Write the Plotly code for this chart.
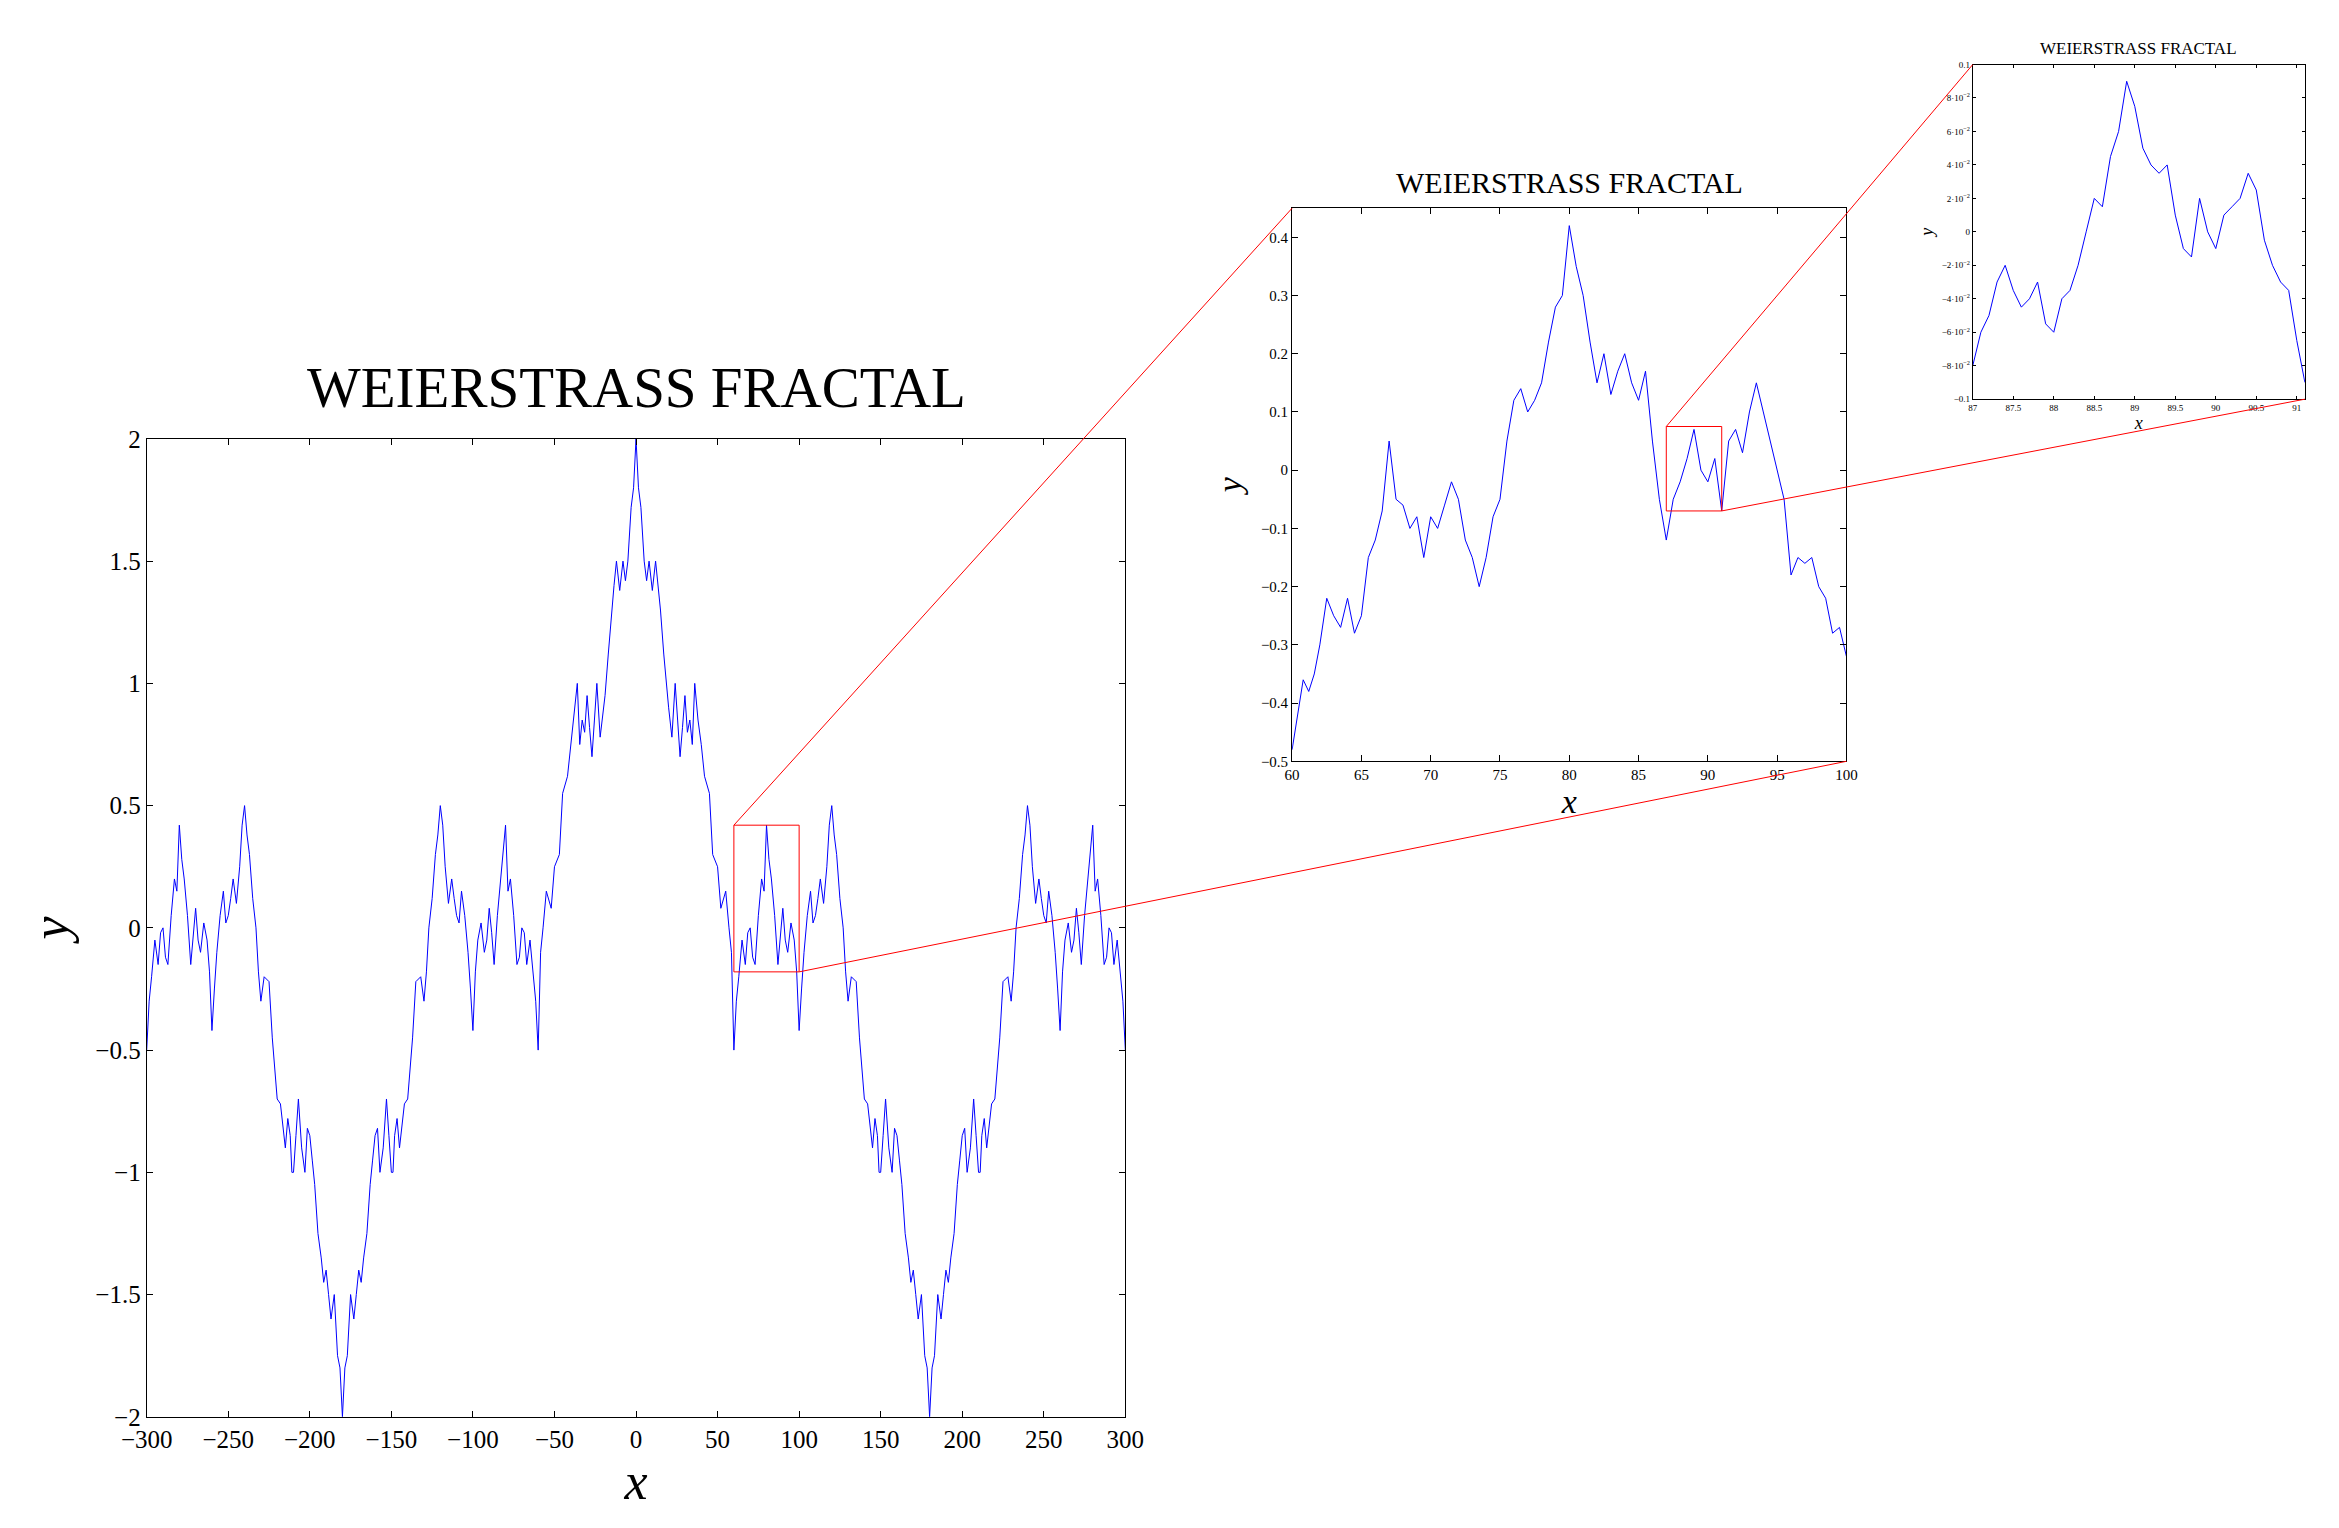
import plotly.graph_objects as go

# main panel, read for x in 0..180 (curve is mirrored around 0 and 180)
main_x_half = [0, 1.5, 3, 5, 6.5, 8, 10, 12, 13.5, 15, 17, 19, 20, 22, 24, 25.5, 27, 28.5, 30, 31.5, 33, 34.5, 36, 38, 40, 42, 45, 47, 50, 52, 55, 57, 58.5, 60,
               61.5, 63, 65, 67, 68.5, 70, 71.5, 73, 75, 77, 78.5, 80, 81.5, 83, 85, 87, 88.5, 90, 91.5, 93, 95, 97, 98.5, 100,
               101.5, 103, 105, 107, 108.5, 110, 111.5, 113, 115, 117, 118.5, 120, 121.5, 123, 125, 127, 128.5, 130, 132, 135, 137, 140,
               142, 145, 146.5, 148, 149, 150, 151.5, 153, 155, 157, 158.5, 160, 161.5, 163, 165, 167, 168.5, 170, 171.5, 173, 175, 177, 178.5, 180]
main_y_half = [2.0, 1.8, 1.72, 1.5, 1.42, 1.5, 1.38, 1.5, 1.4, 1.3, 1.12, 0.95, 0.9, 0.78, 1.0, 0.85, 0.7, 0.82, 0.95, 0.8, 0.85, 0.75, 1.0, 0.85, 0.75, 0.62, 0.55, 0.3, 0.25, 0.08, 0.15, 0.0, -0.1, -0.5,
               -0.3, -0.2, -0.05, -0.15, -0.02, 0.0, -0.12, -0.15, 0.05, 0.2, 0.15, 0.42, 0.28, 0.2, 0.05, -0.15, -0.02, 0.08, -0.05, -0.1, 0.02, -0.05, -0.18, -0.42,
               -0.25, -0.1, 0.05, 0.15, 0.02, 0.05, 0.12, 0.2, 0.1, 0.25, 0.42, 0.5, 0.38, 0.3, 0.12, 0.0, -0.18, -0.3, -0.2, -0.22, -0.45, -0.7,
               -0.72, -0.9, -0.78, -0.85, -1.0, -1.0, -0.85, -0.7, -0.9, -1.0, -0.82, -0.85, -0.95, -1.05, -1.25, -1.35, -1.45, -1.4, -1.5, -1.6, -1.5, -1.75, -1.8, -2.0]

mid_x = [60, 60.4, 60.8, 61.2, 61.6, 62, 62.5, 63, 63.5, 64, 64.5, 65, 65.5, 66, 66.5, 67, 67.5, 68, 68.5, 69, 69.5, 70, 70.5, 71, 71.5, 72, 72.5, 73, 73.5, 74, 74.5, 75,
         75.5, 76, 76.5, 77, 77.5, 78, 78.5, 79, 79.5, 80, 80.5, 81, 81.5, 82, 82.5, 83, 83.5, 84, 84.5, 85, 85.5, 86, 86.5, 87, 87.5, 88, 88.5, 89, 89.5, 90,
         90.5, 91, 91.5, 92, 92.5, 93, 93.5, 94, 94.5, 95, 95.5, 96, 96.5, 97, 97.5, 98, 98.5, 99, 99.5, 100]
mid_y = [-0.48, -0.42, -0.36, -0.38, -0.35, -0.3, -0.22, -0.25, -0.27, -0.22, -0.28, -0.25, -0.15, -0.12, -0.07, 0.05, -0.05, -0.06, -0.1, -0.08, -0.15, -0.08, -0.1, -0.06, -0.02, -0.05, -0.12, -0.15, -0.2, -0.15, -0.08, -0.05,
         0.05, 0.12, 0.14, 0.1, 0.12, 0.15, 0.22, 0.28, 0.3, 0.42, 0.35, 0.3, 0.22, 0.15, 0.2, 0.13, 0.17, 0.2, 0.15, 0.12, 0.17, 0.05, -0.05, -0.12, -0.05, -0.02, 0.02, 0.07, 0.0, -0.02,
         0.02, -0.07, 0.05, 0.07, 0.03, 0.1, 0.15, 0.1, 0.05, 0.0, -0.05, -0.18, -0.15, -0.16, -0.15, -0.2, -0.22, -0.28, -0.27, -0.32, -0.42]

small_x = [87, 87.1, 87.2, 87.3, 87.4, 87.5, 87.6, 87.7, 87.8, 87.9, 88, 88.1, 88.2, 88.3, 88.4, 88.5, 88.6, 88.7, 88.8, 88.9, 89, 89.1, 89.2, 89.3, 89.4,
           89.5, 89.6, 89.7, 89.8, 89.9, 90, 90.1, 90.2, 90.3, 90.4, 90.5, 90.6, 90.7, 90.8, 90.9, 91, 91.1]
small_y = [-0.08, -0.06, -0.05, -0.03, -0.02, -0.035, -0.045, -0.04, -0.03, -0.055, -0.06, -0.04, -0.035, -0.02, 0.0, 0.02, 0.015, 0.045, 0.06, 0.09, 0.075, 0.05, 0.04, 0.035, 0.04,
           0.01, -0.01, -0.015, 0.02, 0.0, -0.01, 0.01, 0.015, 0.02, 0.035, 0.025, -0.005, -0.02, -0.03, -0.035, -0.065, -0.09]

small_yvals = [-0.1, -0.08, -0.06, -0.04, -0.02, 0, 0.02, 0.04, 0.06, 0.08, 0.1]
small_ytext = ["−0.1", "−8·10<sup>−2</sup>", "−6·10<sup>−2</sup>", "−4·10<sup>−2</sup>", "−2·10<sup>−2</sup>", "0",
               "2·10<sup>−2</sup>", "4·10<sup>−2</sup>", "6·10<sup>−2</sup>", "8·10<sup>−2</sup>", "0.1"]

# mirror the half-period readings: around x=0 and around x=180
pts = {}
for x, y in zip(main_x_half, main_y_half):
    for xx in (x, -x, 360 - x, x - 360):
        if -300 <= xx <= 300:
            pts[xx] = y
main_x = sorted(pts)
main_y = [pts[x] for x in main_x]

FONT = "Liberation Serif"
BLUE = "#0000ff"
RED = "#ff0000"

D1 = dict(x=[0.0593, 0.4777], y=[0.078, 0.718])
D2 = dict(x=[0.549, 0.786], y=[0.507, 0.869])
D3 = dict(x=[0.840, 0.982], y=[0.744, 0.963])
R1 = dict(x=[-300, 300], y=[-2, 2])
R2 = dict(x=[60, 100], y=[-0.5, 0.45])
R3 = dict(x=[87, 91.1], y=[-0.1, 0.1])
BOX1 = dict(x=[60, 100], y=[-0.18, 0.42])
BOX2 = dict(x=[87, 91], y=[-0.07, 0.075])

fig = go.Figure()
fig.add_trace(go.Scatter(x=main_x, y=main_y, mode="lines", line=dict(color=BLUE, width=1), xaxis="x", yaxis="y"))
fig.add_trace(go.Scatter(x=mid_x, y=mid_y, mode="lines", line=dict(color=BLUE, width=1), xaxis="x2", yaxis="y2"))
fig.add_trace(go.Scatter(x=small_x, y=small_y, mode="lines", line=dict(color=BLUE, width=1), xaxis="x3", yaxis="y3"))


def ax(dom, rng, size, **kw):
    d = dict(domain=dom, range=rng, showline=True, mirror="ticks", linecolor="black", linewidth=1,
             ticks="inside", ticklen=6, tickcolor="black", showgrid=False, zeroline=False, automargin=False,
             tickfont=dict(family=FONT, size=size, color="black"))
    d.update(kw)
    return d


def to_paper(px, py, D, R):
    fx = D["x"][0] + (px - R["x"][0]) / (R["x"][1] - R["x"][0]) * (D["x"][1] - D["x"][0])
    fy = D["y"][0] + (py - R["y"][0]) / (R["y"][1] - R["y"][0]) * (D["y"][1] - D["y"][0])
    return fx, fy


shapes = []
for box, D, R, xr, yr, TD in [(BOX1, D1, R1, "x", "y", D2), (BOX2, D2, R2, "x2", "y2", D3)]:
    shapes.append(dict(type="rect", xref=xr, yref=yr, x0=box["x"][0], x1=box["x"][1],
                       y0=box["y"][0], y1=box["y"][1], line=dict(color=RED, width=1)))
    a = to_paper(box["x"][0], box["y"][1], D, R)
    b = to_paper(box["x"][1], box["y"][0], D, R)
    shapes.append(dict(type="line", xref="paper", yref="paper", x0=a[0], y0=a[1], x1=TD["x"][0], y1=TD["y"][1], line=dict(color=RED, width=1)))
    shapes.append(dict(type="line", xref="paper", yref="paper", x0=b[0], y0=b[1], x1=TD["x"][1], y1=TD["y"][0], line=dict(color=RED, width=1)))

fig.update_layout(
    width=2339, height=1528, showlegend=False, plot_bgcolor="white", paper_bgcolor="white",
    margin=dict(l=0, r=0, t=0, b=0),
    font=dict(family=FONT, color="black"),
    xaxis=ax(D1["x"], R1["x"], 25, anchor="y", dtick=50, title=dict(text="<i>x</i>", font=dict(size=52, family=FONT), standoff=5)),
    yaxis=ax(D1["y"], R1["y"], 25, anchor="x", dtick=0.5, title=dict(text="<i>y</i>", font=dict(size=52, family=FONT), standoff=10)),
    xaxis2=ax(D2["x"], R2["x"], 15, anchor="y2", dtick=5, title=dict(text="<i>x</i>", font=dict(size=34, family=FONT), standoff=2)),
    yaxis2=ax(D2["y"], R2["y"], 15, anchor="x2", dtick=0.1, title=dict(text="<i>y</i>", font=dict(size=34, family=FONT), standoff=8)),
    xaxis3=ax(D3["x"], R3["x"], 9, anchor="y3", dtick=0.5, ticklen=3, title=dict(text="<i>x</i>", font=dict(size=18, family=FONT), standoff=0)),
    yaxis3=ax(D3["y"], R3["y"], 9, anchor="x3", ticklen=3, tickvals=small_yvals, ticktext=small_ytext,
              title=dict(text="<i>y</i>", font=dict(size=18, family=FONT), standoff=3)),
    shapes=shapes,
    annotations=[
        dict(text="WEIERSTRASS FRACTAL", xref="paper", yref="paper", x=sum(D1["x"]) / 2, y=D1["y"][1] + 0.012,
             xanchor="center", yanchor="bottom", showarrow=False, font=dict(size=57, family=FONT)),
        dict(text="WEIERSTRASS FRACTAL", xref="paper", yref="paper", x=sum(D2["x"]) / 2, y=D2["y"][1] + 0.005,
             xanchor="center", yanchor="bottom", showarrow=False, font=dict(size=30, family=FONT)),
        dict(text="WEIERSTRASS FRACTAL", xref="paper", yref="paper", x=sum(D3["x"]) / 2, y=D3["y"][1] + 0.003,
             xanchor="center", yanchor="bottom", showarrow=False, font=dict(size=17, family=FONT)),
    ],
)
fig.write_html("out.html")
